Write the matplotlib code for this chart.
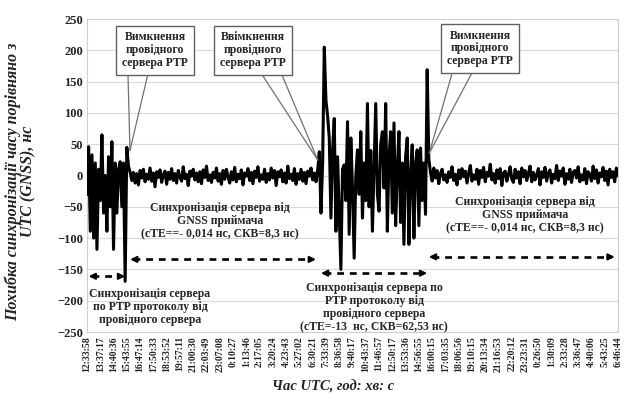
import numpy as np
import matplotlib
matplotlib.use("Agg")
import matplotlib.pyplot as plt

plt.rcParams['font.family'] = ['Liberation Serif', 'DejaVu Serif']
plt.rcParams['font.weight'] = 'bold'

# tick labels (every 8th sample)
time_labels = [
    "12:33:58", "13:37:17", "14:40:36", "15:43:55", "16:47:14", "17:50:33",
    "18:53:52", "19:57:11", "21:00:30", "22:03:49", "23:07:08", "0:10:27",
    "1:13:46", "2:17:05", "3:20:24", "4:23:43", "5:27:02", "6:30:21",
    "7:33:39", "8:36:58", "9:40:17", "10:43:37", "11:46:57", "12:50:17",
    "13:53:36", "14:56:55", "16:00:15", "17:03:35", "18:06:56", "19:10:15",
    "20:13:34", "21:16:53", "22:20:12", "23:23:31", "0:26:50", "1:30:09",
    "2:33:28", "3:36:47", "4:40:06", "5:43:25", "6:46:44",
]
label_step = 8

# time error, ns -- PTP sync from master server (start)
ptp_start = [-30, 46, -89, 33, -100, 20, -118, 10, -40, 65, -60, 0, -89, 30,
             -50, 54, -118, 20, -60, 10, 22, -50, 20, -169, 45, 15, 5]

# GNSS receiver sync (first interval)
gnss_first = [
    -8, 5, -12, 3, -15, 8, -4, 10, -10, 2,
    -6, 12, -9, 4, -18, 6, -3, 9, -11, 1,
    7, -14, 5, -6, 11, -8, 3, -12, 8, -2,
    -9, 14, -5, 2, -16, 7, -1, 10, -7, 4,
    -10, 6, -13, 9, -3, 15, -8, 1, -11, 5,
    -4, 12, -9, 3, -14, 8, -6, 10, -2, -12,
    6, -7, 13, -10, 2, -5, 9, -15, 4, -1,
    11, -8, 5, -13, 7, -3, 14, -9, 1, -6,
    10, -11, 3, -7, 12, -4, 8, -16, 6, -2,
    9, -10, 4, -12, 15, -5, 2, -8, 11, -14,
    3, -6, 10, -9, 5, -13, 7, -1, 12, -7,
    4, -10, 8,
]

# PTP sync from master server (middle)
ptp_middle = [
    38, -60, 20, 205, 120, 95, 60, -68, 40, 91,
    -89, 30, -60, -150, 10, 17, -40, 86, -94, 60,
    -20, -132, 0, 41, -30, 70, -68, 20, -40, 115,
    -50, 40, -89, 10, 115, -30, -57, 50, 70, -20,
    115, -89, 30, 70, -60, 84, -80, 10, 70, -75,
    20, -110, 30, 60, -110, 0, 49, -100, 20, 41,
    -80, 44, -40, 20, -62, 169, 26,
]

# GNSS receiver sync (second interval)
gnss_second = [
    5, -9, 12, -4, 8, -13, 3, 10, -7, 1,
    -11, 6, -3, 14, -8, 2, -15, 9, -5, 11,
    -2, 7, -12, 4, 16, -9, 1, -6, 10, -14,
    8, -3, 13, -10, 5, -1, 18, -7, 3, -12,
    9, -5, 11, -16, 4, 7, -9, 2, 14, -6,
    -11, 10, -4, 6, -13, 12, -2, 8, -8, 3,
    15, -10, 5, -7, 1, 11, -15, 6, -3, 13,
    -9, 4, 9, -12, 2, -5, 16, -8, 7, -1,
    12, -14, 3, -6, 10, -11, 5, 8, -4, 14,
    -10, 1, -7, 11, -13, 6, 2, -9, 15, -5,
    9, -12, 4, -2, 13, -8, 7, -15, 10, -3,
    6, -10, 12, 0,
]

y = np.array(ptp_start + gnss_first + ptp_middle + gnss_second, dtype=float)
x = np.arange(len(y))
n_last = (len(time_labels) - 1) * label_step

fig = plt.figure(figsize=(6.24, 4.01), dpi=100)
ax = fig.add_axes([0.1394, 0.172, 0.851, 0.7806])

ax.plot(x, y, color='black', lw=2.2, zorder=3)

ax.set_xlim(0, n_last)
ax.set_ylim(-250, 250)
ax.set_yticks(np.arange(-250, 251, 50))
ax.set_xticks(np.arange(0, n_last + 1, label_step))
ax.set_xticklabels(time_labels, rotation=90, fontsize=7, fontweight='bold',
                   color='#222222')
for lab in ax.get_yticklabels():
    lab.set_fontsize(9)
    lab.set_fontweight('bold')
    lab.set_color('#222222')
ax.tick_params(length=0, pad=3)
ax.grid(axis='y', color='#d9d9d9', lw=0.8, zorder=0)
for s in ax.spines.values():
    s.set_color('#cfcfcf')
    s.set_linewidth(0.8)

ax.set_ylabel("Похибка синхронізації часу порівняно з\nUTC (GNSS), нс",
              fontsize=11.5, fontweight='bold', style='italic',
              linespacing=0.95, color='#222222')
ax.yaxis.set_label_coords(-0.095, 0.48)
ax.set_xlabel("Час UTC, год: хв: с", fontsize=10.5, fontweight='bold',
              style='italic', color='#222222')
ax.xaxis.set_label_coords(0.463, -0.155)

# callouts
callouts = [
    ("Вимкнення\nпровідного\nсервера PTP", (41, 200), (24.7, 36.7), (25.9, 40)),
    ("Ввімкнення\nпровідного\nсервера PTP", (100, 200), (105.3, 117.3), (139, 25)),
    ("Вимкнення\nпровідного\nсервера PTP", (237, 203), (220.2, 232.2), (206.3, 36)),
]
for text, (cx, cy), (x1, x2), (px, py) in callouts:
    for xs in (x1, x2):
        ax.plot([xs, px], [cy - 38, py], color='#707070', lw=0.9, zorder=4)
    ax.text(cx, cy, text, ha='center', va='center', fontsize=8.5,
            fontweight='bold', color='#262626', linespacing=1.1, zorder=5,
            bbox=dict(boxstyle='square,pad=0.5', fc='white', ec='#606060', lw=1.0))


def dash_arrow(xa, xb, yv):
    ax.plot([xa + 2, xb - 2], [yv, yv], color='black', lw=1.9,
            linestyle=(0, (2.6, 2.2)), zorder=4)
    for xt, xf in ((xa, xa + 3), (xb, xb - 3)):
        ax.annotate('', xy=(xt, yv), xytext=(xf, yv),
                    arrowprops=dict(arrowstyle='-|>', color='black', lw=1.5,
                                    mutation_scale=9, shrinkA=0, shrinkB=0),
                    zorder=4)


dash_arrow(1, 23, -161)
dash_arrow(26, 138, -134)
dash_arrow(141, 205, -156)
dash_arrow(206, 318, -130)

txt_kw = dict(ha='center', va='center', fontsize=8.5, fontweight='bold',
              color='#262626', linespacing=1.1, zorder=5)
ax.text(80, -73, "Синхронізація сервера від\nGNSS приймача\n(сТЕ==- 0,014 нс, СКВ=8,3 нс)", **txt_kw)
ax.text(264, -63, "Синхронізація сервера від\nGNSS приймача\n(сТЕ==- 0,014 нс, СКВ=8,3 нс)", **txt_kw)
ax.text(38, -210, "Синхронізація сервера\nпо PTP протоколу від\nпровідного сервера", **txt_kw)
ax.text(173, -211, "Синхронізація сервера по\nPTP протоколу від\nпровідного сервера\n(сТЕ=-13  нс, СКВ=62,53 нс)", **txt_kw)

fig.savefig("out.png", dpi=100, facecolor='white')
